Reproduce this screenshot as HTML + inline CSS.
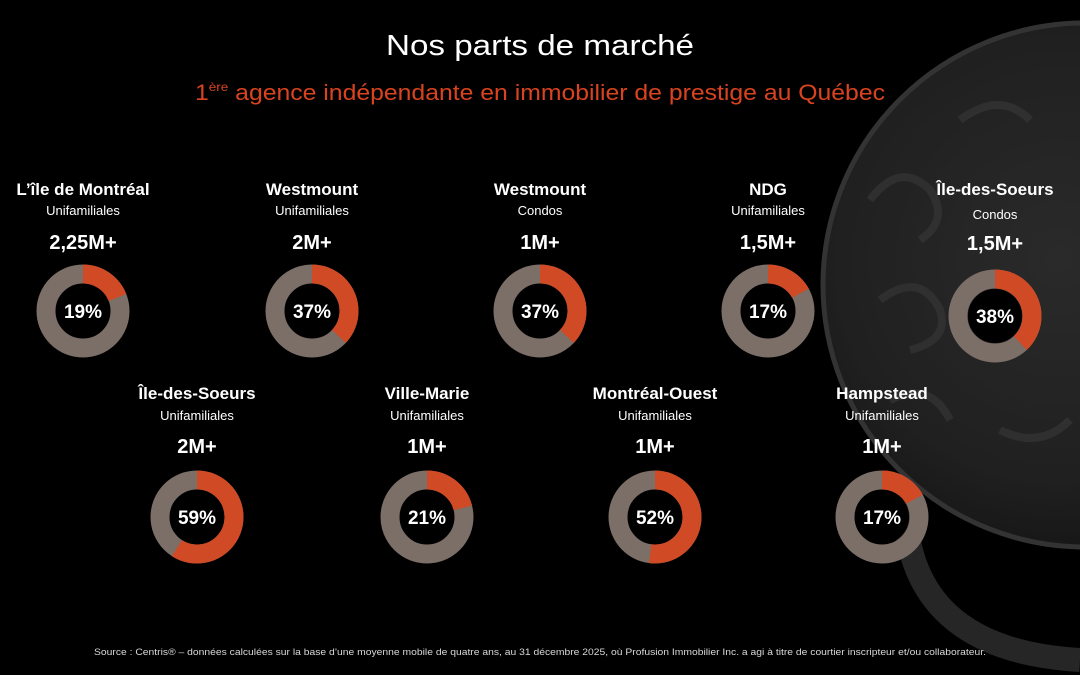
<!DOCTYPE html>
<html><head><meta charset="utf-8"><style>
html,body{margin:0;padding:0;background:#000;}
svg{display:block}
text{font-family:"Liberation Sans",sans-serif;}
</style></head><body>
<svg width="1080" height="675" viewBox="0 0 1080 675" xmlns="http://www.w3.org/2000/svg">
<rect width="1080" height="675" fill="#000"/>
<defs>
<radialGradient id="lg" cx="0.45" cy="0.45" r="0.6">
<stop offset="0" stop-color="#2a2a2a"/><stop offset="0.7" stop-color="#202020"/><stop offset="1" stop-color="#141414"/>
</radialGradient>
</defs>
<circle cx="1085" cy="285" r="262" fill="url(#lg)"/>
<circle cx="1085" cy="285" r="262" fill="none" stroke="#333" stroke-width="5"/>
<path d="M905 500 Q905 650 1080 660" fill="none" stroke="#262626" stroke-width="24"/>
<g fill="none" stroke="#333" stroke-width="8" opacity="0.8">
<path d="M870 200 q30 -40 60 -10 q20 30 -10 50"/>
<path d="M880 300 q40 -30 60 10 q10 30 -30 40"/>
<path d="M890 400 q40 -20 60 20"/>
<path d="M960 120 q40 -30 70 0"/>
<path d="M1000 430 q40 20 70 -10"/>
</g>
<text x="540" y="55" fill="#fff" font-size="29" text-anchor="middle" textLength="308" lengthAdjust="spacingAndGlyphs">Nos parts de marché</text>
<text x="195" y="100" fill="#d9431f" font-size="22" textLength="690" lengthAdjust="spacingAndGlyphs">1<tspan font-size="12" dy="-9">ère</tspan><tspan dy="9"> agence indépendante en immobilier de prestige au Québec</tspan></text>
<g fill="#fff" text-anchor="middle" font-weight="bold">
<g font-size="17">
<text x="83" y="195">L’île de Montréal</text>
<text x="312" y="195">Westmount</text>
<text x="540" y="195">Westmount</text>
<text x="768" y="195">NDG</text>
<text x="995" y="195">Île-des-Soeurs</text>
<text x="197" y="399">Île-des-Soeurs</text>
<text x="427" y="399">Ville-Marie</text>
<text x="655" y="399">Montréal-Ouest</text>
<text x="882" y="399">Hampstead</text>
</g>
<g font-size="13" font-weight="normal">
<text x="83" y="215">Unifamiliales</text>
<text x="312" y="215">Unifamiliales</text>
<text x="540" y="215">Condos</text>
<text x="768" y="215">Unifamiliales</text>
<text x="995" y="219">Condos</text>
<text x="197" y="420">Unifamiliales</text>
<text x="427" y="420">Unifamiliales</text>
<text x="655" y="420">Unifamiliales</text>
<text x="882" y="420">Unifamiliales</text>
</g>
<g font-size="20">
<text x="83" y="249">2,25M+</text>
<text x="312" y="249">2M+</text>
<text x="540" y="249">1M+</text>
<text x="768" y="249">1,5M+</text>
<text x="995" y="250">1,5M+</text>
<text x="197" y="453">2M+</text>
<text x="427" y="453">1M+</text>
<text x="655" y="453">1M+</text>
<text x="882" y="453">1M+</text>
</g>
</g>
<g fill="none" stroke-width="19">
<g transform="translate(83,311)"><circle r="37" stroke="#7b6f68"/><circle r="37" stroke="#d04a26" stroke-dasharray="44.2 300" transform="rotate(-90)"/></g>
<g transform="translate(312,311)"><circle r="37" stroke="#7b6f68"/><circle r="37" stroke="#d04a26" stroke-dasharray="86 300" transform="rotate(-90)"/></g>
<g transform="translate(540,311)"><circle r="37" stroke="#7b6f68"/><circle r="37" stroke="#d04a26" stroke-dasharray="86 300" transform="rotate(-90)"/></g>
<g transform="translate(768,311)"><circle r="37" stroke="#7b6f68"/><circle r="37" stroke="#d04a26" stroke-dasharray="39.5 300" transform="rotate(-90)"/></g>
<g transform="translate(995,316)"><circle r="37" stroke="#7b6f68"/><circle r="37" stroke="#d04a26" stroke-dasharray="88.3 300" transform="rotate(-90)"/></g>
<g transform="translate(197,517)"><circle r="37" stroke="#7b6f68"/><circle r="37" stroke="#d04a26" stroke-dasharray="137.2 300" transform="rotate(-90)"/></g>
<g transform="translate(427,517)"><circle r="37" stroke="#7b6f68"/><circle r="37" stroke="#d04a26" stroke-dasharray="48.8 300" transform="rotate(-90)"/></g>
<g transform="translate(655,517)"><circle r="37" stroke="#7b6f68"/><circle r="37" stroke="#d04a26" stroke-dasharray="120.9 300" transform="rotate(-90)"/></g>
<g transform="translate(882,517)"><circle r="37" stroke="#7b6f68"/><circle r="37" stroke="#d04a26" stroke-dasharray="39.5 300" transform="rotate(-90)"/></g>
</g>
<g fill="#000"><circle cx="83" cy="311" r="27"/><circle cx="312" cy="311" r="27"/><circle cx="540" cy="311" r="27"/><circle cx="768" cy="311" r="27"/><circle cx="995" cy="316" r="27"/><circle cx="197" cy="517" r="27"/><circle cx="427" cy="517" r="27"/><circle cx="655" cy="517" r="27"/><circle cx="882" cy="517" r="27"/></g>
<g fill="#fff" font-size="19" font-weight="bold" text-anchor="middle">
<text x="83" y="318">19%</text>
<text x="312" y="318">37%</text>
<text x="540" y="318">37%</text>
<text x="768" y="318">17%</text>
<text x="995" y="323">38%</text>
<text x="197" y="524">59%</text>
<text x="427" y="524">21%</text>
<text x="655" y="524">52%</text>
<text x="882" y="524">17%</text>
</g>
<text x="540" y="655" fill="#d8d8d8" font-size="9.5" text-anchor="middle" textLength="892" lengthAdjust="spacingAndGlyphs">Source : Centris® – données calculées sur la base d’une moyenne mobile de quatre ans, au 31 décembre 2025, où Profusion Immobilier Inc. a agi à titre de courtier inscripteur et/ou collaborateur.</text>
</svg>
</body></html>
